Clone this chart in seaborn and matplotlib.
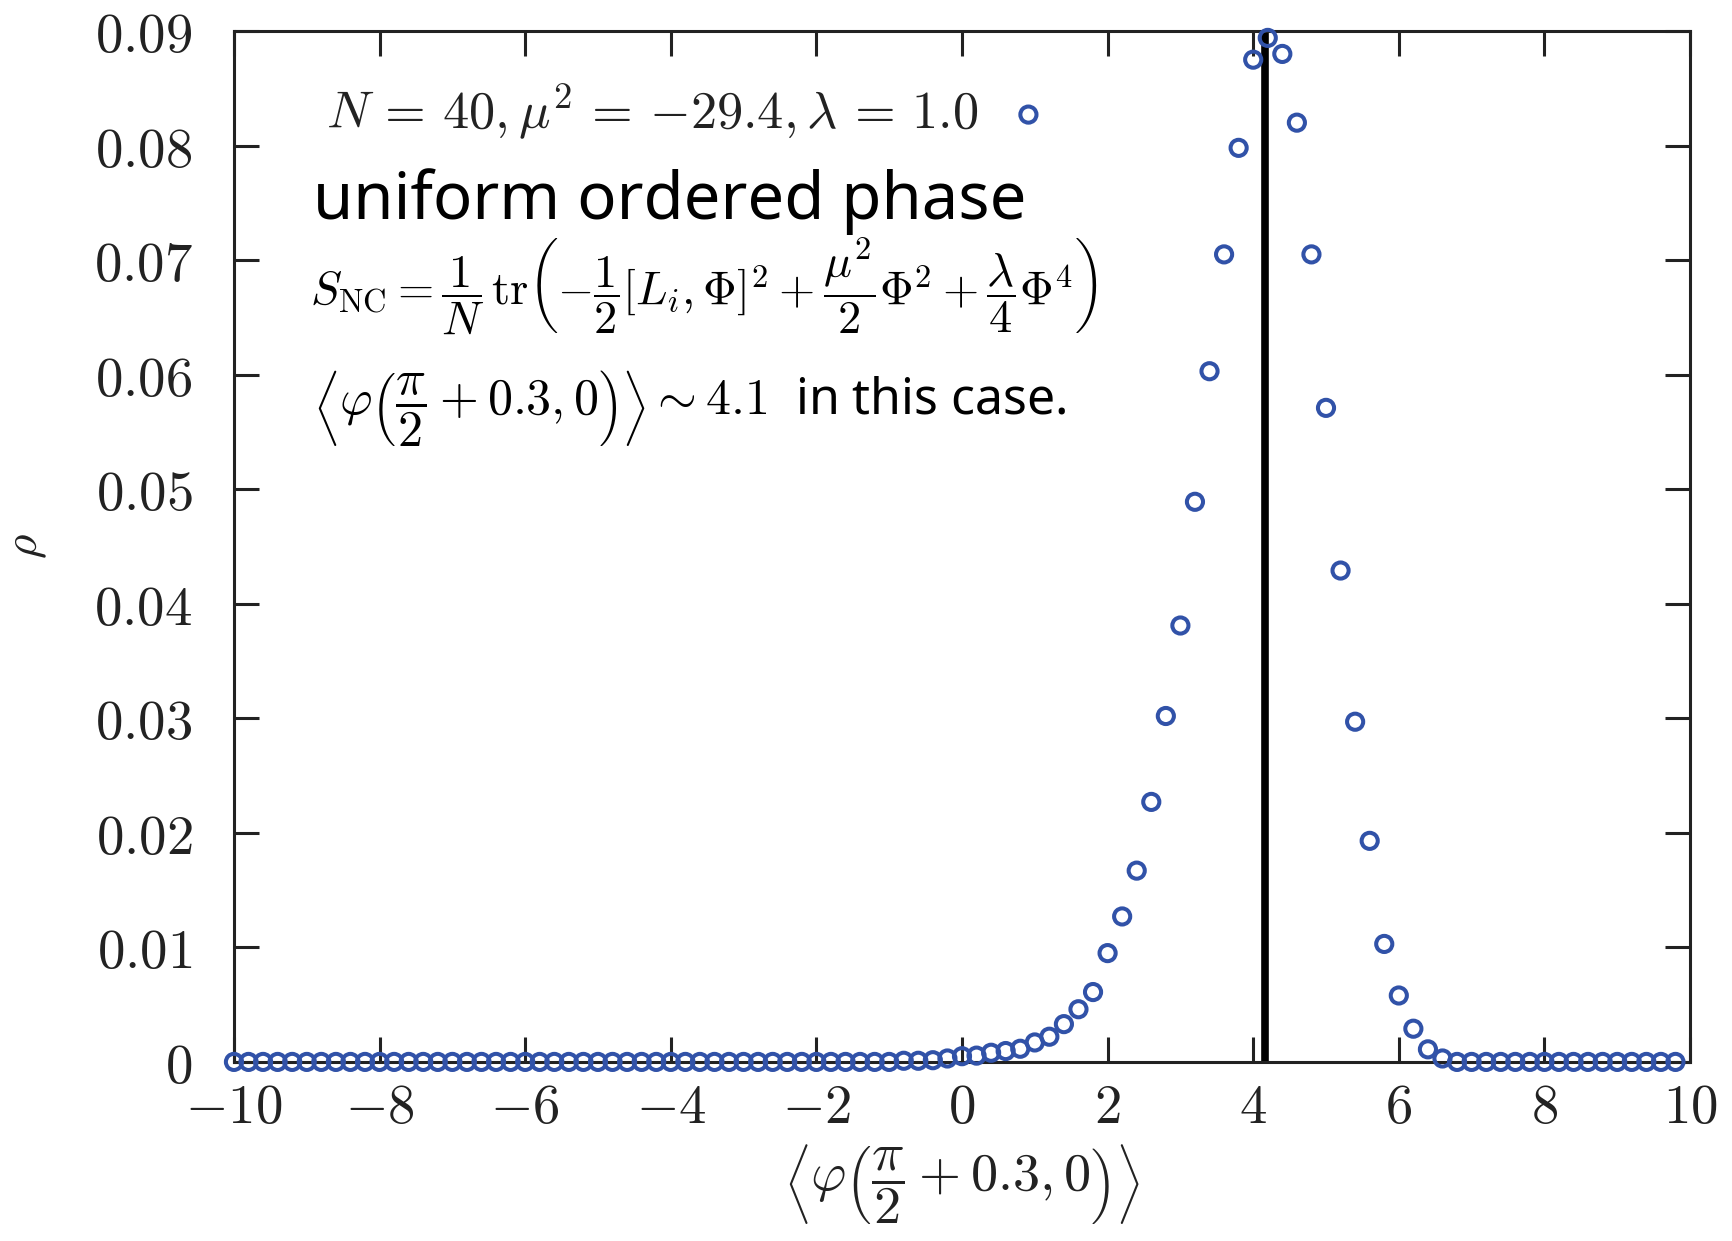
import numpy as np
import pandas as pd
import matplotlib
matplotlib.use("Agg")
import matplotlib.pyplot as plt
import seaborn as sns

# Distribution of <phi(pi/2 + 0.3, 0)> : bin centres and densities
phi_bins = [round(-10 + 0.2 * i, 1) for i in range(100)]
rho_left_zero = [0.0] * 45          # -10.0 ... -1.2
rho_rise = [0.0, 0.0001, 0.0001, 0.00015, 0.0003,          # -1.0 ... -0.2
            0.0005, 0.00055, 0.0008, 0.00095, 0.00115,      # 0.0 ... 0.8
            0.0017, 0.0022, 0.0033, 0.0046, 0.0061,         # 1.0 ... 1.8
            0.0095, 0.0127, 0.0167, 0.0227, 0.0302,         # 2.0 ... 2.8
            0.0381, 0.0489, 0.0603, 0.0705, 0.0798]         # 3.0 ... 3.8
rho_peak = [0.0875, 0.0894, 0.0880, 0.0820, 0.0705,         # 4.0 ... 4.8
            0.0571, 0.0429, 0.0297, 0.0193, 0.0103,         # 5.0 ... 5.8
            0.0058, 0.0029, 0.0011, 0.0003]                 # 6.0 ... 6.6
rho_right_zero = [0.0] * 16         # 6.8 ... 9.8
rho_values = rho_left_zero + rho_rise + rho_peak + rho_right_zero

phi_mean = 4.165
x_ticks = [-10, -8, -6, -4, -2, 0, 2, 4, 6, 8, 10]
y_ticks = [0, 0.01, 0.02, 0.03, 0.04, 0.05, 0.06, 0.07, 0.08, 0.09]
y_tick_labels = ["0", "0.01", "0.02", "0.03", "0.04", "0.05", "0.06", "0.07", "0.08", "0.09"]
series_label = r"$N\,=\,40,\mu^2\,=\,{-}29.4,\lambda\,=\,1.0$"

df = pd.DataFrame({"phi": phi_bins, "rho": rho_values})

sns.set_theme(style="ticks")
plt.rcParams["mathtext.fontset"] = "cm"
plt.rcParams["font.family"] = ["Noto Sans", "DejaVu Sans"]

fig = plt.figure(figsize=(17.33, 12.41), dpi=100)
ax = fig.add_axes([0.135, 0.1443, 0.8402, 0.8307])

mark_color = "#3152a8"
sns.scatterplot(data=df, x="phi", y="rho", ax=ax, marker="o", s=135,
                facecolors="none", edgecolor=mark_color, linewidth=2.9,
                clip_on=False, zorder=3, label=series_label)

ax.axvline(phi_mean, color="black", lw=5.5, zorder=2)

ax.set_xlim(-10, 10)
ax.set_ylim(0, 0.09)
ax.set_xticks(x_ticks)
ax.set_xticklabels([rf"${t}$" for t in x_ticks])
ax.set_yticks(y_ticks)
ax.set_yticklabels([rf"${t}$" for t in y_tick_labels])

ax.tick_params(axis="both", which="major", direction="in", length=18, width=2.2,
               color="#222222", labelsize=39.5, labelcolor="#222222",
               top=True, right=True)
ax.tick_params(axis="x", pad=14)
ax.tick_params(axis="y", pad=30)
for sp in ax.spines.values():
    sp.set_linewidth(2.2)
    sp.set_color("#222222")
    sp.set_visible(True)

ax.set_xlabel(r"$\left\langle\varphi\left(\dfrac{\pi}{2}+0.3,0\right)\right\rangle$",
              fontsize=39, color="#222222", labelpad=4)
ax.set_ylabel(r"$\rho$", fontsize=34, color="#222222", labelpad=32)

leg = ax.legend(loc="center left", bbox_to_anchor=(0.049, 0.922), frameon=False,
                markerfirst=False, fontsize=37.7, handlelength=1.0, handletextpad=0.45,
                borderaxespad=0)
for t in leg.get_texts():
    t.set_color("#222222")

ax.text(0.054, 0.818, "uniform ordered phase", transform=ax.transAxes,
        fontsize=47, color="black", ha="left", va="baseline")
ax.text(0.052, 0.752,
        r"$S_{\mathrm{NC}}=\dfrac{1}{N}\,\mathrm{tr}\left(-\dfrac{1}{2}[L_i,\Phi]^2"
        r"+\dfrac{\mu^2}{2}\Phi^2+\dfrac{\lambda}{4}\Phi^4\right)$",
        transform=ax.transAxes, fontsize=33.5, color="black", ha="left", va="center")
ax.text(0.054, 0.634,
        r"$\left\langle\varphi\left(\dfrac{\pi}{2}+0.3,0\right)\right\rangle\sim 4.1$"
        "  in this case.",
        transform=ax.transAxes, fontsize=36, color="black", ha="left", va="center")

fig.savefig("out.png", dpi=100)
